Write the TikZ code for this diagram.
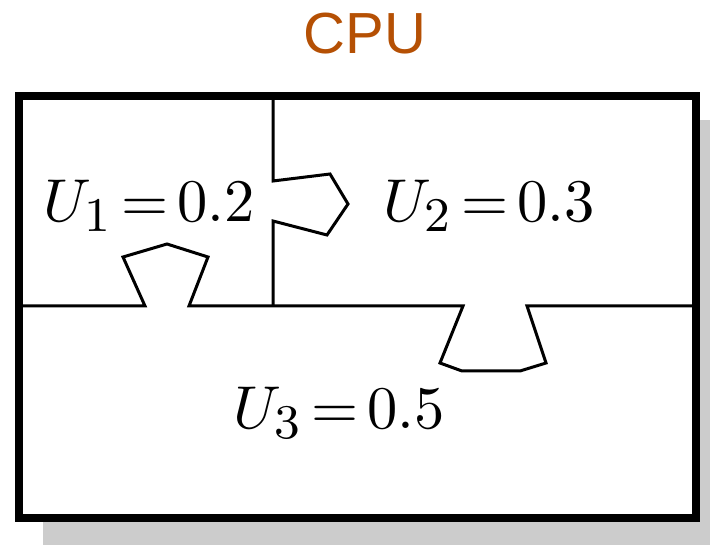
\documentclass[tikz,border=0pt]{standalone}
\usepackage{fontspec}
\newfontfamily\cpufont{Liberation Sans}
\DeclareMathSizes{10}{10}{8}{6}
\definecolor{cpuorange}{RGB}{181,80,4}
\definecolor{shadowgray}{RGB}{204,204,204}
\newcommand{\utilbox}[1]{\scalebox{6.05}{$\thickmuskip=2.5mu #1$}}
\begin{document}
\begin{tikzpicture}[x=1pt,y=-1pt,
  frame/.style={draw=black,line width=8pt,fill=white},
  divider/.style={draw=black,line width=3pt,line join=miter},
  util/.style={inner sep=0pt},
  title/.style={inner sep=0pt,text=cpuorange,font=\cpufont\fontsize{58}{66}\selectfont}]
\useasboundingbox (0,0) rectangle (710,545);
\fill[shadowgray] (43,120) rectangle (710,545);
\path[frame] (19,96) rectangle (696,518);
\coordinate (hl) at (19,306);
\coordinate (hr) at (696,306);
\coordinate (vt) at (273,96);
\coordinate (vb) at (273,306);
\draw[divider] (hl) -- (145,306) -- (123,257) -- (167,244) -- (208,257) -- (189,306)
  -- (463,306) -- (440,363) -- (462,371) -- (520,371) -- (546,363) -- (527,306) -- (hr);
\draw[divider] (vt) -- (273,181) -- (330,174) -- (348,204) -- (327,235) -- (273,221) -- (vb);
\node[title] (cpu) at (365,34) {CPU};
\node[util] (u1) at (149,206) {\utilbox{U_1 = 0.2}};
\node[util] (u2) at (489,206) {\utilbox{U_2 = 0.3}};
\node[util] (u3) at (339,413) {\utilbox{U_3 = 0.5}};
\end{tikzpicture}
\end{document}
